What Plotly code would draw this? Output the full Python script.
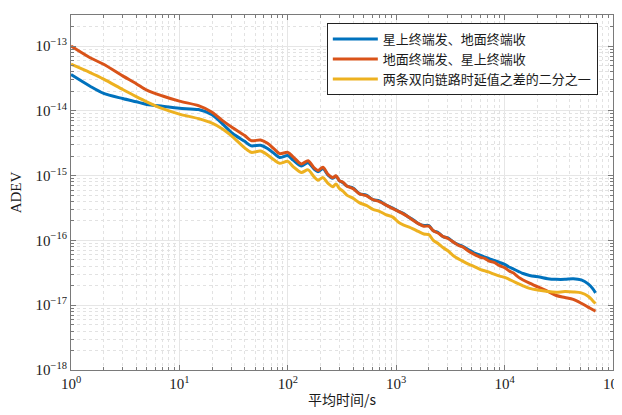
import plotly.graph_objects as go

# Averaging time (s)
tau = [1, 1.5, 2, 3, 4, 5, 7, 10, 15, 20, 25, 31, 40, 46, 56, 65, 75, 84, 100, 112,
       133, 154, 175, 190, 211, 235, 261, 278, 300, 323, 350, 400, 460, 530, 610, 700,
       800, 930, 1050, 1160, 1300, 1430, 1600, 1800, 2000, 2200, 2450, 2700, 3000, 3400,
       3800, 4100, 4700, 5200, 6000, 6600, 7200, 8000, 9000, 10000, 11000, 12000, 13500,
       14800, 17000, 21000, 25000, 30000, 36000, 43000, 51000, 59000, 65000, 69000]

# 星上终端发、地面终端收 (blue)
adev_sat_to_ground = [
    3.631e-14, 2.399e-14, 1.862e-14, 1.549e-14, 1.380e-14, 1.259e-14, 1.175e-14, 1.096e-14,
    1.047e-14, 8.710e-15, 6.310e-15, 4.467e-15, 3.388e-15, 2.884e-15, 2.951e-15, 2.630e-15,
    2.188e-15, 1.905e-15, 2.042e-15, 1.738e-15, 1.413e-15, 1.585e-15, 1.259e-15, 1.148e-15,
    1.288e-15, 1.023e-15, 9.120e-16, 9.772e-16, 8.318e-16, 7.762e-16, 6.918e-16, 6.457e-16,
    5.248e-16, 5.012e-16, 4.266e-16, 4.074e-16, 3.548e-16, 3.162e-16, 2.818e-16, 2.630e-16,
    2.291e-16, 2.089e-16, 1.820e-16, 1.698e-16, 1.698e-16, 1.413e-16, 1.318e-16, 1.148e-16,
    1.096e-16, 9.333e-17, 8.511e-17, 8.128e-17, 7.079e-17, 6.457e-17, 5.888e-17, 5.495e-17,
    5.248e-17, 4.898e-17, 4.571e-17, 4.266e-17, 3.890e-17, 3.631e-17, 3.311e-17, 3.090e-17,
    2.884e-17, 2.720e-17, 2.570e-17, 2.512e-17, 2.512e-17, 2.570e-17, 2.455e-17, 2.138e-17,
    1.800e-17, 1.549e-17]

# 地面终端发、星上终端收 (orange)
adev_ground_to_sat = [
    1.000e-13, 6.607e-14, 5.248e-14, 3.467e-14, 2.630e-14, 2.089e-14, 1.698e-14, 1.413e-14,
    1.202e-14, 9.550e-15, 7.079e-15, 5.495e-15, 4.169e-15, 3.467e-15, 3.548e-15, 3.162e-15,
    2.570e-15, 2.188e-15, 2.291e-15, 1.950e-15, 1.514e-15, 1.698e-15, 1.318e-15, 1.202e-15,
    1.349e-15, 1.047e-15, 9.333e-16, 1.000e-15, 8.318e-16, 7.943e-16, 6.918e-16, 6.310e-16,
    5.248e-16, 4.898e-16, 4.266e-16, 3.981e-16, 3.548e-16, 3.090e-16, 2.818e-16, 2.570e-16,
    2.291e-16, 2.042e-16, 1.820e-16, 1.660e-16, 1.660e-16, 1.413e-16, 1.288e-16, 1.148e-16,
    1.072e-16, 9.333e-17, 8.318e-17, 7.943e-17, 6.761e-17, 6.166e-17, 5.495e-17, 5.248e-17,
    4.786e-17, 4.571e-17, 4.074e-17, 3.802e-17, 3.388e-17, 3.162e-17, 2.692e-17, 2.455e-17,
    2.188e-17, 1.862e-17, 1.640e-17, 1.413e-17, 1.318e-17, 1.230e-17, 1.072e-17, 9.333e-18,
    8.511e-18, 8.128e-18]

# 两条双向链路时延值之差的二分之一 (yellow)
adev_half_diff = [
    5.248e-14, 3.890e-14, 3.090e-14, 2.138e-14, 1.660e-14, 1.380e-14, 1.080e-14, 8.913e-15,
    7.586e-15, 6.457e-15, 5.248e-15, 3.981e-15, 2.692e-15, 2.291e-15, 2.399e-15, 2.089e-15,
    1.738e-15, 1.549e-15, 1.660e-15, 1.380e-15, 1.122e-15, 1.230e-15, 9.550e-16, 8.511e-16,
    9.333e-16, 7.586e-16, 6.761e-16, 7.413e-16, 6.310e-16, 5.754e-16, 5.012e-16, 4.467e-16,
    3.802e-16, 3.467e-16, 3.020e-16, 2.818e-16, 2.512e-16, 2.291e-16, 1.905e-16, 1.738e-16,
    1.622e-16, 1.514e-16, 1.380e-16, 1.259e-16, 1.230e-16, 1.000e-16, 8.913e-17, 7.762e-17,
    6.918e-17, 5.754e-17, 5.129e-17, 4.786e-17, 4.266e-17, 3.981e-17, 3.548e-17, 3.388e-17,
    3.236e-17, 3.020e-17, 2.818e-17, 2.692e-17, 2.512e-17, 2.344e-17, 2.138e-17, 1.995e-17,
    1.820e-17, 1.698e-17, 1.622e-17, 1.585e-17, 1.622e-17, 1.600e-17, 1.549e-17, 1.380e-17,
    1.175e-17, 1.060e-17]

series_names = ["星上终端发、地面终端收", "地面终端发、星上终端收", "两条双向链路时延值之差的二分之一"]
series_colors = ["#0072BD", "#D95319", "#EDB120"]

x_tick_vals = [1, 10, 100, 1000, 10000, 100000]
x_tick_text = ["10<sup>0</sup>", "10<sup>1</sup>", "10<sup>2</sup>", "10<sup>3</sup>",
               "10<sup>4</sup>", "10<sup>5</sup>"]
y_tick_vals = [1e-18, 1e-17, 1e-16, 1e-15, 1e-14, 1e-13]
y_tick_text = ["10<sup>−18</sup>", "10<sup>−17</sup>", "10<sup>−16</sup>", "10<sup>−15</sup>",
               "10<sup>−14</sup>", "10<sup>−13</sup>"]

fig = go.Figure()
for name, vals, col in zip(series_names,
                           [adev_sat_to_ground, adev_ground_to_sat, adev_half_diff],
                           series_colors):
    fig.add_trace(go.Scatter(x=tau, y=vals, mode="lines", name=name,
                             line=dict(color=col, width=3, shape="spline", smoothing=0.8)))

axis_common = dict(
    type="log", showline=True, linecolor="#7a7a7a", linewidth=1, mirror="ticks",
    ticks="inside", ticklen=5, tickcolor="#7a7a7a", automargin=False,
    showgrid=True, gridcolor="#e6e6e6", gridwidth=1, zeroline=False,
    tickfont=dict(family="Liberation Serif", size=15, color="#1a1a1a"),
    tickmode="array",
    minor=dict(dtick="D1", ticks="inside", ticklen=3, tickcolor="#7a7a7a",
               showgrid=True, gridcolor="#e2e2e2", griddash="dot", gridwidth=1),
)

fig.update_layout(
    width=617, height=410,
    margin=dict(l=63, r=12, t=7, b=48),
    paper_bgcolor="white", plot_bgcolor="white",
    xaxis=dict(axis_common, range=[0, 5], tickvals=x_tick_vals, ticktext=x_tick_text,
               title=dict(text="平均时间/s", standoff=4,
                          font=dict(family="Noto Sans CJK SC", size=14, color="#1a1a1a"))),
    yaxis=dict(axis_common, range=[-18, -12.52], tickvals=y_tick_vals, ticktext=y_tick_text,
               title=dict(text="ADEV", standoff=12,
                          font=dict(family="Liberation Serif", size=15, color="#1a1a1a"))),
    legend=dict(x=0.972, y=0.977, xanchor="right", yanchor="top",
                bgcolor="white", bordercolor="#222222", borderwidth=1,
                font=dict(family="Noto Sans CJK SC", size=13, color="#1a1a1a"),
                itemwidth=45, tracegroupgap=0),
    showlegend=True,
)

fig.write_html("out.html")
